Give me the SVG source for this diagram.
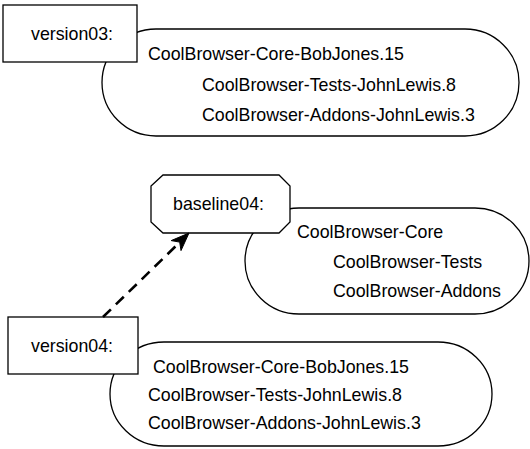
<svg xmlns="http://www.w3.org/2000/svg" width="530" height="449" viewBox="0 0 530 449">
<style>
.shape{fill:#fff;stroke:#000;stroke-width:1.3}
text{font-family:"Liberation Sans",Arial,Helvetica,sans-serif;font-size:17.8px;fill:#000}
.conn{fill:none;stroke:#000;stroke-width:2.6;stroke-dasharray:11 7}
</style>
<rect width="530" height="449" fill="#fff"/>
<g id="version03-contents">
<rect class="shape" x="102" y="29" width="417" height="107" rx="54" ry="53.5"/>
<text x="148" y="60">CoolBrowser-Core-BobJones.15</text>
<text x="202" y="91">CoolBrowser-Tests-JohnLewis.8</text>
<text x="202" y="121">CoolBrowser-Addons-JohnLewis.3</text>
</g>
<g id="version03">
<rect class="shape" x="3" y="5" width="134" height="57"/>
<text x="31" y="40">version03:</text>
</g>
<g id="baseline04-contents">
<rect class="shape" x="245" y="208" width="284" height="106" rx="54" ry="53"/>
<text x="297" y="238">CoolBrowser-Core</text>
<text x="333" y="268">CoolBrowser-Tests</text>
<text x="333" y="297">CoolBrowser-Addons</text>
</g>
<g id="baseline04">
<polygon class="shape" points="163,175 279,175 290,186 290,222 279,233 163,233 151,222 151,186"/>
<text x="173" y="210">baseline04:</text>
</g>
<g id="version04-contents">
<rect class="shape" x="110" y="342" width="382" height="104" rx="54" ry="52"/>
<text x="153" y="373">CoolBrowser-Core-BobJones.15</text>
<text x="148" y="401">CoolBrowser-Tests-JohnLewis.8</text>
<text x="148" y="429">CoolBrowser-Addons-JohnLewis.3</text>
</g>
<g id="version04">
<rect class="shape" x="8" y="317" width="130" height="57"/>
<text x="31" y="352">version04:</text>
</g>
<g id="connectors">
<line class="conn" x1="103" y1="317" x2="179" y2="243"/>
<polygon points="189,233 181,250.6 179.7,242.1 171.2,240.6" fill="#000" stroke="#000" stroke-width="1"/>
</g>
</svg>
